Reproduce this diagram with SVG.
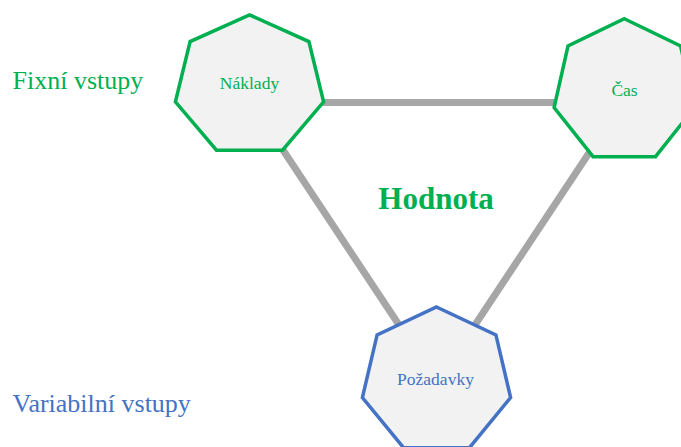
<svg xmlns="http://www.w3.org/2000/svg" width="681" height="447" viewBox="0 0 681 447">
  <style>
    text { font-family: "Liberation Serif", "Times New Roman", serif; }
    .link { stroke: #A6A6A6; stroke-width: 7; fill: none; }
    .hept { fill: #F2F2F2; stroke-width: 3.5; stroke-linejoin: miter; }
    .fixed { stroke: #00B050; }
    .var { stroke: #4472C4; }
    .lbl { font-size: 17.5px; text-anchor: middle; }
    .g { fill: #00B050; }
    .b { fill: #4472C4; }
  </style>

  <!-- connectors -->
  <g id="connectors">
    <line class="link" x1="320" y1="102.5" x2="560" y2="102.5"/>
    <line class="link" x1="281" y1="147" x2="403" y2="331"/>
    <line class="link" x1="593" y1="147" x2="471" y2="331"/>
  </g>

  <g id="naklady">
    <polygon class="hept fixed" points="249.5,14.8 308.9,41.6 323.6,101.8 282.5,150.2 216.5,150.2 175.4,101.8 190.1,41.6"/>
    <text class="lbl g" x="249.5" y="89">Náklady</text>
  </g>

  <g id="cas">
    <polygon class="hept fixed" points="624.3,18.7 680.6,46 694.5,107.5 655.5,156.7 593.1,156.7 554.1,107.5 568,46"/>
    <text class="lbl g" x="624.5" y="96">Čas</text>
  </g>

  <g id="pozadavky">
    <polygon class="hept var" points="436.5,307 495.9,334.9 510.6,397.5 469.5,447.7 403.5,447.7 362.4,397.5 377.1,334.9"/>
    <text class="lbl b" x="435.5" y="385">Požadavky</text>
  </g>

  <g id="legend">
    <text class="g" x="12.5" y="89.3" font-size="26">Fixní vstupy</text>
    <text class="b" x="12.5" y="411.7" font-size="26">Variabilní vstupy</text>
  </g>

  <g id="center-label">
    <text class="g" x="436" y="209.3" font-size="31" font-weight="bold" text-anchor="middle">Hodnota</text>
  </g>
</svg>
